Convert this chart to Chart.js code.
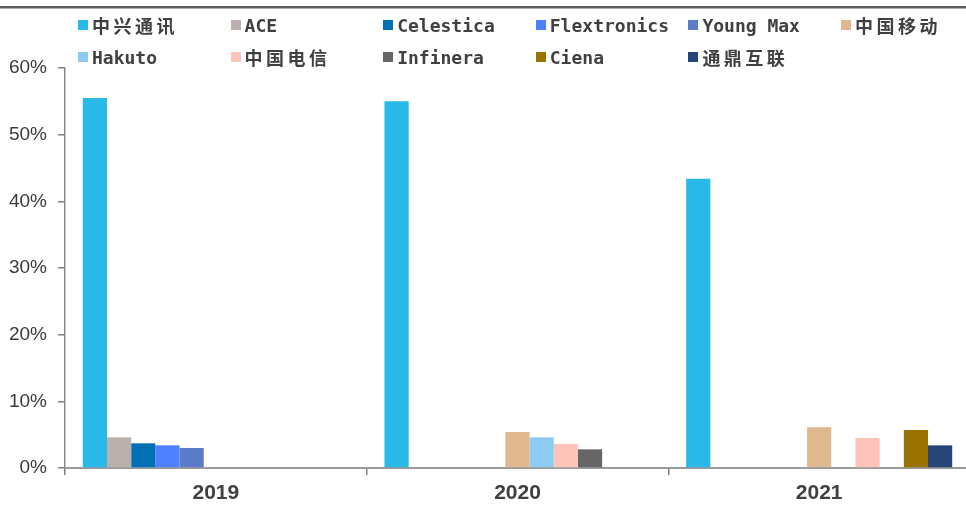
<!DOCTYPE html>
<html>
<head>
<meta charset="utf-8">
<script src="https://cdn.jsdelivr.net/npm/chart.js@4/dist/chart.umd.min.js"></script>
<style>
  html, body { margin: 0; padding: 0; background: #ffffff; overflow: hidden; width: 966px; height: 505px; }
  #wrap { position: absolute; left: 0; top: 0; width: 970px; height: 505px; z-index: 1; }
  #legend { position: absolute; left: 78px; top: 13px; width: 916px; display: flex; flex-wrap: wrap; row-gap: 8px; z-index: 5; }
  .item { width: 152.6px; height: 24px; display: flex; align-items: center; font-family: "DejaVu Sans Mono", "Noto Sans CJK SC", monospace; font-weight: bold; font-size: 18px; color: #404040; white-space: nowrap; }
  .box { width: 10px; height: 10px; margin-right: 4px; flex: none; }
  .cjk { font-family: "Noto Sans CJK SC", sans-serif; font-weight: 700; font-size: 18px; letter-spacing: 3.5px; }
</style>
</head>
<body>
<div id="wrap"><canvas id="c" width="970" height="505"></canvas></div>
<div id="legend"></div>
<script>
const years = ['2019', '2020', '2021'];
const seriesNames = ['中兴通讯', 'ACE', 'Celestica', 'Flextronics', 'Young Max', '中国移动', 'Hakuto', '中国电信', 'Infinera', 'Ciena', '通鼎互联'];
const zte        = [55.5, 55.0, 43.4];
const ace        = [4.6, null, null];
const celestica  = [3.7, null, null];
const flextronics= [3.4, null, null];
const youngMax   = [3.0, null, null];
const chinaMobile= [null, 5.4, 6.1];
const hakuto     = [null, 4.6, null];
const chinaTelecom=[null, 3.6, 4.5];
const infinera   = [null, 2.8, null];
const ciena      = [null, null, 5.7];
const tongding   = [null, null, 3.4];
const seriesValues = [zte, ace, celestica, flextronics, youngMax, chinaMobile, hakuto, chinaTelecom, infinera, ciena, tongding];
const seriesColors = ['#29b9e8', '#bab1ae', '#0070b6', '#4f80ff', '#5b7cc8', '#dfb890', '#8dcbf0', '#ffc4b9', '#666666', '#9a7200', '#26467a'];
const yMin = 0, yMax = 60, yStep = 10;

const datasets = seriesNames.map((n, i) => ({
  label: n,
  data: seriesValues[i],
  backgroundColor: seriesColors[i],
  borderWidth: 0,
  categoryPercentage: 0.882,
  barPercentage: 1.0
}));

const topRule = {
  id: 'topRule',
  afterDraw(chart) {
    const ctx = chart.ctx;
    ctx.save();
    ctx.fillStyle = '#5a5a5a';
    ctx.fillRect(0, 6, chart.width, 2.5);
    ctx.restore();
  }
};

new Chart(document.getElementById('c'), {
  type: 'bar',
  data: { labels: years, datasets },
  plugins: [topRule],
  options: {
    responsive: false,
    animation: false,
    layout: { padding: { top: 68, right: 0, left: 0, bottom: 0 } },
    plugins: { legend: { display: false }, tooltip: { enabled: false } },
    scales: {
      x: {
        offset: true,
        grid: { display: true, offset: true, drawOnChartArea: false, drawTicks: true, tickLength: 7, color: '#7f7f7f', lineWidth: 1.5 },
        border: { display: true, color: '#9a9a9a', width: 2 },
        ticks: { color: '#404040', padding: 6, font: { family: '"Liberation Sans", Arial', size: 21, weight: 'bold' } },
        afterFit: (s) => { s.height = 505 - 468; }
      },
      y: {
        min: yMin, max: yMax,
        grid: { display: true, drawOnChartArea: false, drawTicks: true, tickLength: 7, color: '#7f7f7f', lineWidth: 1.5 },
        border: { display: true, color: '#8a8a8a', width: 1.5 },
        ticks: { stepSize: yStep, color: '#3a3a3a', padding: 11, callback: v => v + '%', font: { family: '"Liberation Sans", Arial', size: 19, weight: '500' } },
        afterFit: (s) => { s.width = 65; }
      }
    }
  }
});

// HTML legend built from the same arrays
const leg = document.getElementById('legend');
seriesNames.forEach((n, i) => {
  const it = document.createElement('div');
  it.className = 'item';
  const b = document.createElement('span');
  b.className = 'box';
  b.style.background = seriesColors[i];
  it.appendChild(b);
  const t = document.createElement('span');
  t.innerHTML = n.replace(/([\u4e00-\u9fff]+)/g, '<span class="cjk">$1</span>');
  it.appendChild(t);
  leg.appendChild(it);
});
</script>
</body>
</html>
